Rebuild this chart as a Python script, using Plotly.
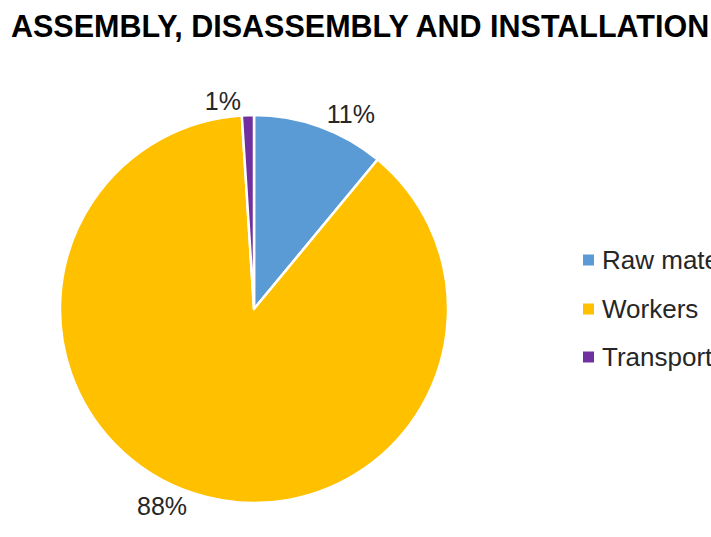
import plotly.graph_objects as go

# Cost breakdown for assembly, disassembly and installation
categories = ["Raw materials", "Workers", "Transport"]
shares = [11, 88, 1]
colors = ["#5B9BD5", "#FFC000", "#7030A0"]

W, H = 711, 537
FONT = "Liberation Sans"

fig = go.Figure()
fig.add_trace(go.Pie(
    labels=categories,
    values=shares,
    sort=False,
    direction="clockwise",
    rotation=0,
    marker=dict(colors=colors, line=dict(color="white", width=2.5)),
    textinfo="percent",
    texttemplate="%{percent:.0%}",
    textposition="outside",
    textfont=dict(family=FONT, size=25, color="#262626"),
    domain=dict(x=[60 / W, 448 / W], y=[(H - 503) / H, (H - 115) / H]),
    showlegend=False,
    hoverinfo="label+percent",
))

# Legend drawn as colored squares with labels to the right of the pie
legend_y = [260, 309, 357]
for name, col, yy in zip(categories, colors, legend_y):
    fig.add_shape(type="rect", xref="paper", yref="paper",
                  x0=583 / W, x1=594 / W,
                  y0=(H - yy - 5.5) / H, y1=(H - yy + 5.5) / H,
                  fillcolor=col, line=dict(width=0))
    fig.add_annotation(xref="paper", yref="paper", x=600 / W, y=(H - yy) / H,
                       xanchor="left", yanchor="middle", showarrow=False,
                       text=name, font=dict(family=FONT, size=26, color="#262626"))

fig.update_layout(
    width=W, height=H,
    margin=dict(l=0, r=0, t=0, b=0),
    paper_bgcolor="white",
    plot_bgcolor="white",
    title=dict(text="<b>ASSEMBLY, DISASSEMBLY AND INSTALLATION</b>",
               x=11 / W, xanchor="left", y=(H - 26) / H, yanchor="middle",
               font=dict(family=FONT, size=30.5, color="black")),
)

fig.write_html("out.html")
